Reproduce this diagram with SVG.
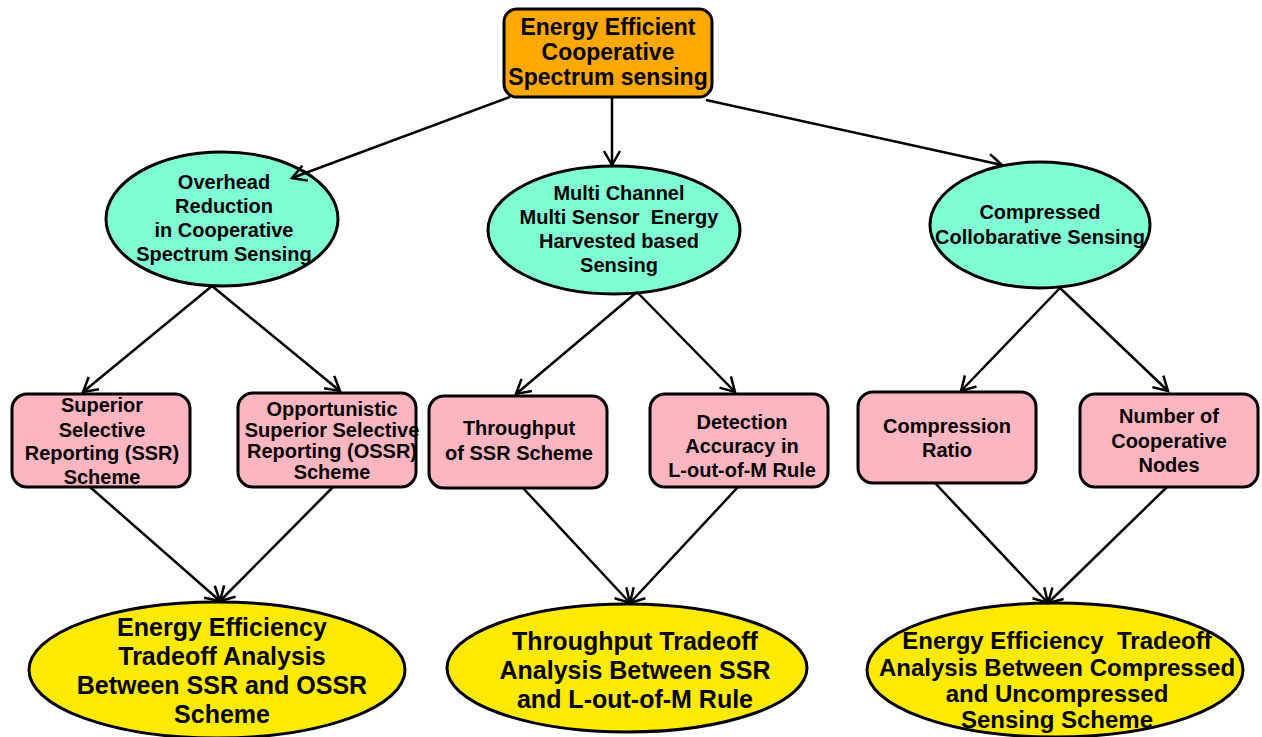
<svg xmlns="http://www.w3.org/2000/svg" width="1262" height="737" viewBox="0 0 1262 737">
  <style>
    .lbl { font-family: "Liberation Sans", Arial, sans-serif; font-weight: bold; text-anchor: middle; fill: #000; }
    .t23 { font-size: 23px; }
    .t20 { font-size: 20px; }
    .t25 { font-size: 25px; }
    .t24 { font-size: 24px; }
    .root { fill: #FFA800; stroke: #000; stroke-width: 3; }
    .mid { fill: #80FFD4; stroke: #000; stroke-width: 3; }
    .leaf { fill: #FFB6C1; stroke: #000; stroke-width: 3; }
    .goal { fill: #FFEA00; stroke: #000; stroke-width: 3; }
    .edge { stroke: #000; stroke-width: 2.5; fill: none; marker-end: url(#arrow); }
  </style>
  <defs>
    <marker id="arrow" markerUnits="userSpaceOnUse" markerWidth="20" markerHeight="20" viewBox="-16 -10 20 20" refX="0" refY="0" orient="auto">
      <path d="M-14,-8 L0,0 L-14,8" fill="none" stroke="#000" stroke-width="2.5"/>
    </marker>
  </defs>
  <rect width="1262" height="737" fill="#fff"/>

  <!-- root -->
  <g id="root">
    <rect class="root" x="504" y="9" width="208" height="88" rx="13"/>
    <text class="lbl t23" x="608" y="35">Energy Efficient</text>
    <text class="lbl t23" x="608" y="60">Cooperative</text>
    <text class="lbl t23" x="608" y="85">Spectrum sensing</text>
  </g>

  <!-- second level -->
  <g id="overhead">
    <ellipse class="mid" cx="222" cy="219" rx="116" ry="67"/>
    <text class="lbl t20" x="224" y="189">Overhead</text>
    <text class="lbl t20" x="224" y="213">Reduction</text>
    <text class="lbl t20" x="224" y="237">in Cooperative</text>
    <text class="lbl t20" x="224" y="261">Spectrum Sensing</text>
  </g>
  <g id="multichannel">
    <ellipse class="mid" cx="614" cy="230" rx="126" ry="64"/>
    <text class="lbl t20" x="619" y="200">Multi Channel</text>
    <text class="lbl t20" x="619" y="224" xml:space="preserve">Multi Sensor  Energy</text>
    <text class="lbl t20" x="619" y="248">Harvested based</text>
    <text class="lbl t20" x="619" y="272">Sensing</text>
  </g>
  <g id="compressed">
    <ellipse class="mid" cx="1040" cy="225" rx="110" ry="63"/>
    <text class="lbl t20" x="1040" y="219">Compressed</text>
    <text class="lbl t20" x="1040" y="244">Collobarative Sensing</text>
  </g>

  <!-- third level -->
  <g id="ssr">
    <rect class="leaf" x="12" y="394" width="178" height="93" rx="15"/>
    <text class="lbl t20" x="102" y="412">Superior</text>
    <text class="lbl t20" x="102" y="437">Selective</text>
    <text class="lbl t20" x="102" y="460">Reporting (SSR)</text>
    <text class="lbl t20" x="102" y="484">Scheme</text>
  </g>
  <g id="ossr">
    <rect class="leaf" x="238" y="393" width="178" height="94" rx="15"/>
    <text class="lbl t20" x="332" y="416">Opportunistic</text>
    <text class="lbl t20" x="332" y="437">Superior Selective</text>
    <text class="lbl t20" x="332" y="458">Reporting (OSSR)</text>
    <text class="lbl t20" x="332" y="479">Scheme</text>
  </g>
  <g id="throughput">
    <rect class="leaf" x="429" y="396" width="178" height="92" rx="15"/>
    <text class="lbl t20" x="519" y="435">Throughput</text>
    <text class="lbl t20" x="519" y="460">of SSR Scheme</text>
  </g>
  <g id="detection">
    <rect class="leaf" x="650" y="394" width="178" height="93" rx="15"/>
    <text class="lbl t20" x="742" y="429">Detection</text>
    <text class="lbl t20" x="742" y="453">Accuracy in</text>
    <text class="lbl t20" x="742" y="477">L-out-of-M Rule</text>
  </g>
  <g id="ratio">
    <rect class="leaf" x="858" y="392" width="178" height="91" rx="15"/>
    <text class="lbl t20" x="947" y="433">Compression</text>
    <text class="lbl t20" x="947" y="457">Ratio</text>
  </g>
  <g id="nodes">
    <rect class="leaf" x="1080" y="394" width="178" height="93" rx="15"/>
    <text class="lbl t20" x="1169" y="423">Number of</text>
    <text class="lbl t20" x="1169" y="448">Cooperative</text>
    <text class="lbl t20" x="1169" y="472">Nodes</text>
  </g>

  <!-- outcomes -->
  <g id="energy-tradeoff">
    <ellipse class="goal" cx="217" cy="670" rx="188" ry="68"/>
    <text class="lbl t25" x="222" y="636">Energy Efficiency</text>
    <text class="lbl t25" x="222" y="665">Tradeoff Analysis</text>
    <text class="lbl t25" x="222" y="694">Between SSR and OSSR</text>
    <text class="lbl t25" x="222" y="723">Scheme</text>
  </g>
  <g id="throughput-tradeoff">
    <ellipse class="goal" cx="627" cy="668" rx="180" ry="64"/>
    <text class="lbl t25" x="635" y="650">Throughput Tradeoff</text>
    <text class="lbl t25" x="635" y="679">Analysis Between SSR</text>
    <text class="lbl t25" x="635" y="708">and L-out-of-M Rule</text>
  </g>
  <g id="compression-tradeoff">
    <ellipse class="goal" cx="1055" cy="670" rx="188" ry="67"/>
    <text class="lbl t24" x="1057" y="649" xml:space="preserve">Energy Efficiency  Tradeoff</text>
    <text class="lbl t24" x="1057" y="676">Analysis Between Compressed</text>
    <text class="lbl t24" x="1057" y="702">and Uncompressed</text>
    <text class="lbl t24" x="1057" y="728">Sensing Scheme</text>
  </g>

  <!-- connectors, drawn last so the arrowheads sit over the node outlines -->
  <g id="connectors">
    <line class="edge" x1="510" y1="97" x2="292" y2="178"/>
    <line class="edge" x1="612" y1="97" x2="612" y2="165"/>
    <line class="edge" x1="706" y1="100" x2="1002" y2="165"/>
    <line class="edge" x1="212" y1="286" x2="83" y2="392"/>
    <line class="edge" x1="212" y1="286" x2="340" y2="391"/>
    <line class="edge" x1="637" y1="292" x2="516" y2="394"/>
    <line class="edge" x1="637" y1="292" x2="735" y2="392"/>
    <line class="edge" x1="1060" y1="288" x2="961" y2="391"/>
    <line class="edge" x1="1060" y1="288" x2="1168" y2="391"/>
    <line class="edge" x1="90" y1="487" x2="220" y2="601"/>
    <line class="edge" x1="333" y1="487" x2="220" y2="601"/>
    <line class="edge" x1="523" y1="488" x2="630" y2="603"/>
    <line class="edge" x1="738" y1="487" x2="630" y2="603"/>
    <line class="edge" x1="935" y1="483" x2="1048" y2="603"/>
    <line class="edge" x1="1167" y1="487" x2="1048" y2="603"/>
  </g>
</svg>
